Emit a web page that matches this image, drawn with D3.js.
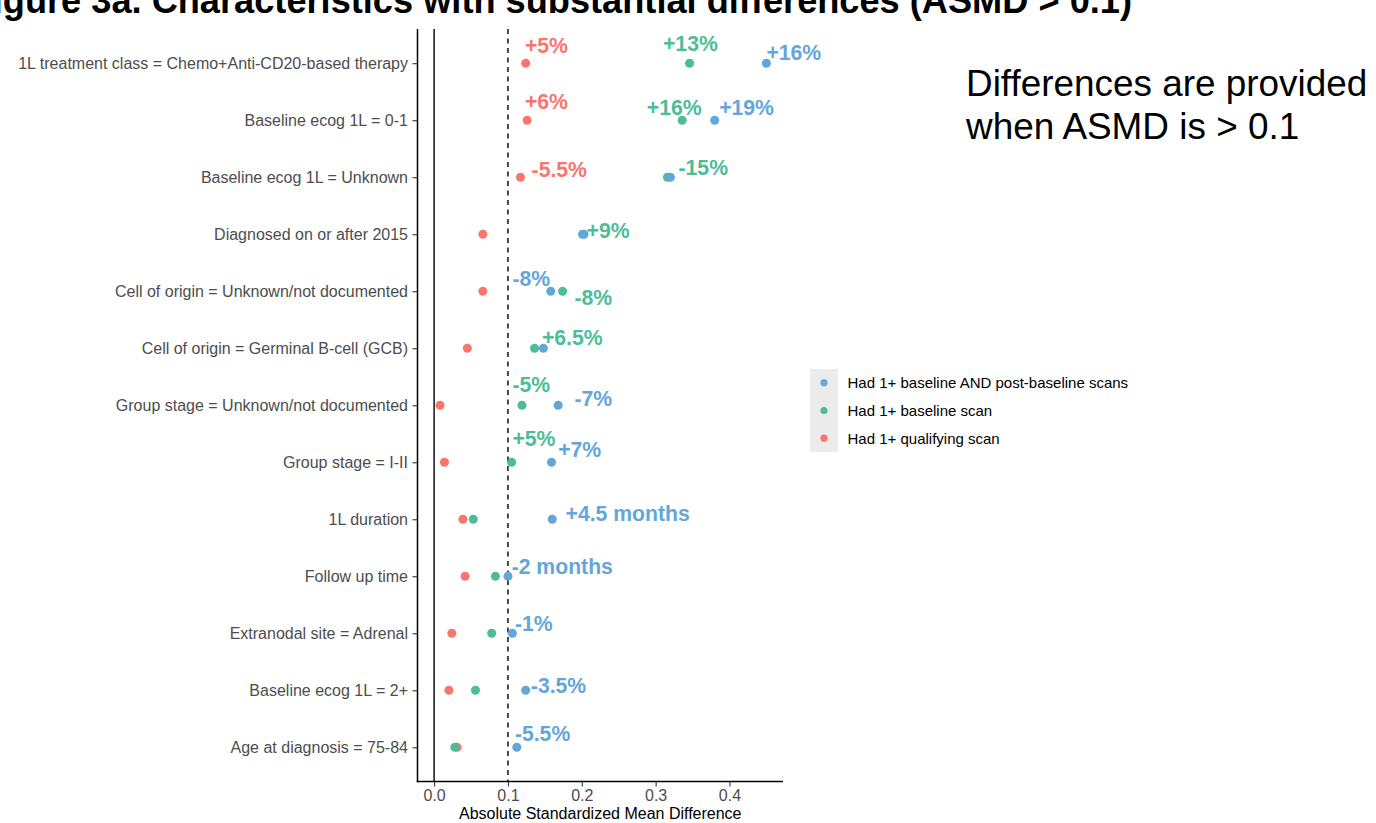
<!DOCTYPE html>
<html>
<head>
<meta charset="utf-8">
<script src="https://cdn.jsdelivr.net/npm/d3@7"></script>
<style>
  html, body { margin: 0; padding: 0; background: #fff; }
  svg { display: block; font-family: "Liberation Sans", Arial, Helvetica, sans-serif; }
</style>
</head>
<body>
<svg id="chart" width="1376" height="823"></svg>
<script>
// Characteristics, top to bottom
const categories = [
  "1L treatment class = Chemo+Anti-CD20-based therapy",
  "Baseline ecog 1L = 0-1",
  "Baseline ecog 1L = Unknown",
  "Diagnosed on or after 2015",
  "Cell of origin = Unknown/not documented",
  "Cell of origin = Germinal B-cell (GCB)",
  "Group stage = Unknown/not documented",
  "Group stage = I-II",
  "1L duration",
  "Follow up time",
  "Extranodal site = Adrenal",
  "Baseline ecog 1L = 2+",
  "Age at diagnosis = 75-84"
];

const seriesNames = [
  "Had 1+ baseline AND post-baseline scans",
  "Had 1+ baseline scan",
  "Had 1+ qualifying scan"
];

// ASMD per characteristic for each cohort
const asmdPostBaseline = [0.450, 0.380, 0.320, 0.201, 0.158, 0.148, 0.168, 0.159, 0.160, 0.100, 0.106, 0.124, 0.112];
const asmdBaseline     = [0.346, 0.336, 0.316, 0.203, 0.174, 0.136, 0.119, 0.105, 0.053, 0.083, 0.078, 0.056, 0.028];
const asmdQualifying   = [0.124, 0.126, 0.117, 0.066, 0.066, 0.045, 0.008, 0.014, 0.039, 0.042, 0.024, 0.020, 0.031];

// Difference annotations: text, cohort index, row, x (ASMD units), vertical nudge (rows)
const noteText   = ["+5%", "+13%", "+16%", "+6%", "+16%", "+19%", "-5.5%", "-15%", "+9%", "-8%", "-8%", "+6.5%",
                    "-5%", "-7%", "+5%", "+7%", "+4.5 months", "-2 months", "-1%", "-3.5%", "-5.5%"];
const noteSeries = [2, 1, 0, 2, 1, 0, 2, 1, 1, 0, 1, 1, 1, 0, 1, 0, 0, 0, 0, 0, 0];
const noteRow    = [0, 0, 0, 1, 1, 1, 2, 2, 3, 4, 4, 5, 6, 6, 7, 7, 8, 9, 10, 11, 12];
const noteX      = [0.123, 0.310, 0.450, 0.123, 0.288, 0.386, 0.132, 0.331, 0.2065, 0.106, 0.190, 0.146,
                    0.106, 0.190, 0.106, 0.168, 0.178, 0.105, 0.1094, 0.131, 0.1094];
const noteDy     = [-0.31, -0.35, -0.18, -0.33, -0.22, -0.22, -0.135, -0.165, -0.06, -0.22, 0.105, -0.19,
                    -0.37, -0.11, -0.415, -0.23, -0.10, -0.175, -0.17, -0.09, -0.245];

const xTicks = [0.0, 0.1, 0.2, 0.3, 0.4];
const threshold = 0.1;

const colors = ["#64A6DA", "#4DBD98", "#F8766D"];
const seriesValues = [asmdPostBaseline, asmdBaseline, asmdQualifying];

const svg = d3.select("#chart");

const panel = { left: 417.5, right: 783, top: 29, bottom: 781.5 };

const x = d3.scaleLinear()
  .domain([-0.0225, 0.4725])
  .range([panel.left, panel.right]);

const y = d3.scalePoint()
  .domain(categories)
  .range([panel.top, panel.bottom])
  .padding(0.6);

const color = d3.scaleOrdinal().domain(seriesNames).range(colors);

// Title
svg.append("text")
  .attr("x", 1132)
  .attr("y", 13)
  .attr("text-anchor", "end")
  .attr("font-size", 36.2)
  .attr("font-weight", "bold")
  .attr("fill", "#000")
  .text("Figure 3a. Characteristics with substantial differences (ASMD > 0.1)");

// Reference lines at 0 and at the threshold
svg.append("line")
  .attr("x1", x(0)).attr("x2", x(0))
  .attr("y1", panel.top).attr("y2", panel.bottom)
  .attr("stroke", "#000").attr("stroke-width", 1.4);

svg.append("line")
  .attr("x1", x(threshold)).attr("x2", x(threshold))
  .attr("y1", panel.top).attr("y2", panel.bottom)
  .attr("stroke", "#000").attr("stroke-width", 1.4)
  .attr("stroke-dasharray", "5,4.5");

// Axes
const yAxis = d3.axisLeft(y).tickSize(5).tickSizeOuter(0).tickPadding(4.5);
const gy = svg.append("g").attr("transform", `translate(${panel.left},0)`).call(yAxis);
gy.select(".domain").attr("stroke", "#000").attr("stroke-width", 1.5)
  .attr("d", `M0,${panel.top}V${panel.bottom + 0.75}`);
gy.selectAll(".tick line").attr("stroke", "#333").attr("stroke-width", 1.1);
gy.selectAll(".tick text").attr("fill", "#4D4D4D").attr("font-size", 16)
  .attr("font-family", "'Liberation Sans', Arial, sans-serif");

const xAxis = d3.axisBottom(x).tickValues(xTicks).tickFormat(d3.format(".1f"))
  .tickSize(5).tickSizeOuter(0).tickPadding(3.5);
const gx = svg.append("g").attr("transform", `translate(0,${panel.bottom})`).call(xAxis);
gx.select(".domain").attr("stroke", "#000").attr("stroke-width", 1.5)
  .attr("d", `M${panel.left - 0.75},0H${panel.right}`);
gx.selectAll(".tick line").attr("stroke", "#333").attr("stroke-width", 1.1);
gx.selectAll(".tick text").attr("fill", "#4D4D4D").attr("font-size", 16)
  .attr("font-family", "'Liberation Sans', Arial, sans-serif");

svg.append("text")
  .attr("x", (panel.left + panel.right) / 2 + 0)
  .attr("y", 818.5)
  .attr("text-anchor", "middle")
  .attr("font-size", 16)
  .attr("fill", "#000")
  .text("Absolute Standardized Mean Difference");

// Points: qualifying drawn first, post-baseline on top
const points = [];
[2, 1, 0].forEach(s => {
  seriesValues[s].forEach((v, i) => points.push({ s, cat: categories[i], v }));
});

svg.append("g").selectAll("circle")
  .data(points)
  .join("circle")
  .attr("cx", d => x(d.v))
  .attr("cy", d => y(d.cat))
  .attr("r", 4.5)
  .attr("fill", d => color(seriesNames[d.s]));

// Difference annotations
const step = y.step();
svg.append("g").selectAll("text")
  .data(noteText.map((t, i) => ({ t, s: noteSeries[i], row: noteRow[i], xv: noteX[i], dy: noteDy[i] })))
  .join("text")
  .attr("x", d => x(d.xv))
  .attr("y", d => y(categories[d.row]) + d.dy * step)
  .attr("dominant-baseline", "central")
  .attr("font-size", 21.2)
  .attr("font-weight", "bold")
  .attr("fill", d => color(seriesNames[d.s]))
  .text(d => d.t);

// Legend
const legend = svg.append("g").attr("transform", "translate(810,369)");
legend.append("rect")
  .attr("width", 28).attr("height", 83)
  .attr("fill", "#EBEBEB");
const keyH = 83 / 3;
const items = legend.selectAll("g.item")
  .data(seriesNames)
  .join("g")
  .attr("class", "item")
  .attr("transform", (d, i) => `translate(0,${keyH * i + keyH / 2})`);
items.append("circle")
  .attr("cx", 14).attr("cy", 0).attr("r", 3.6)
  .attr("fill", d => color(d));
items.append("text")
  .attr("x", 37.5).attr("y", 0)
  .attr("dominant-baseline", "central")
  .attr("font-size", 15)
  .attr("fill", "#000")
  .text(d => d);

// Side note
const note = svg.append("text")
  .attr("x", 966)
  .attr("font-size", 36.9)
  .attr("fill", "#000");
note.append("tspan").attr("x", 966).attr("y", 96).text("Differences are provided");
note.append("tspan").attr("x", 966).attr("y", 138.5).text("when ASMD is > 0.1");
</script>
</body>
</html>
